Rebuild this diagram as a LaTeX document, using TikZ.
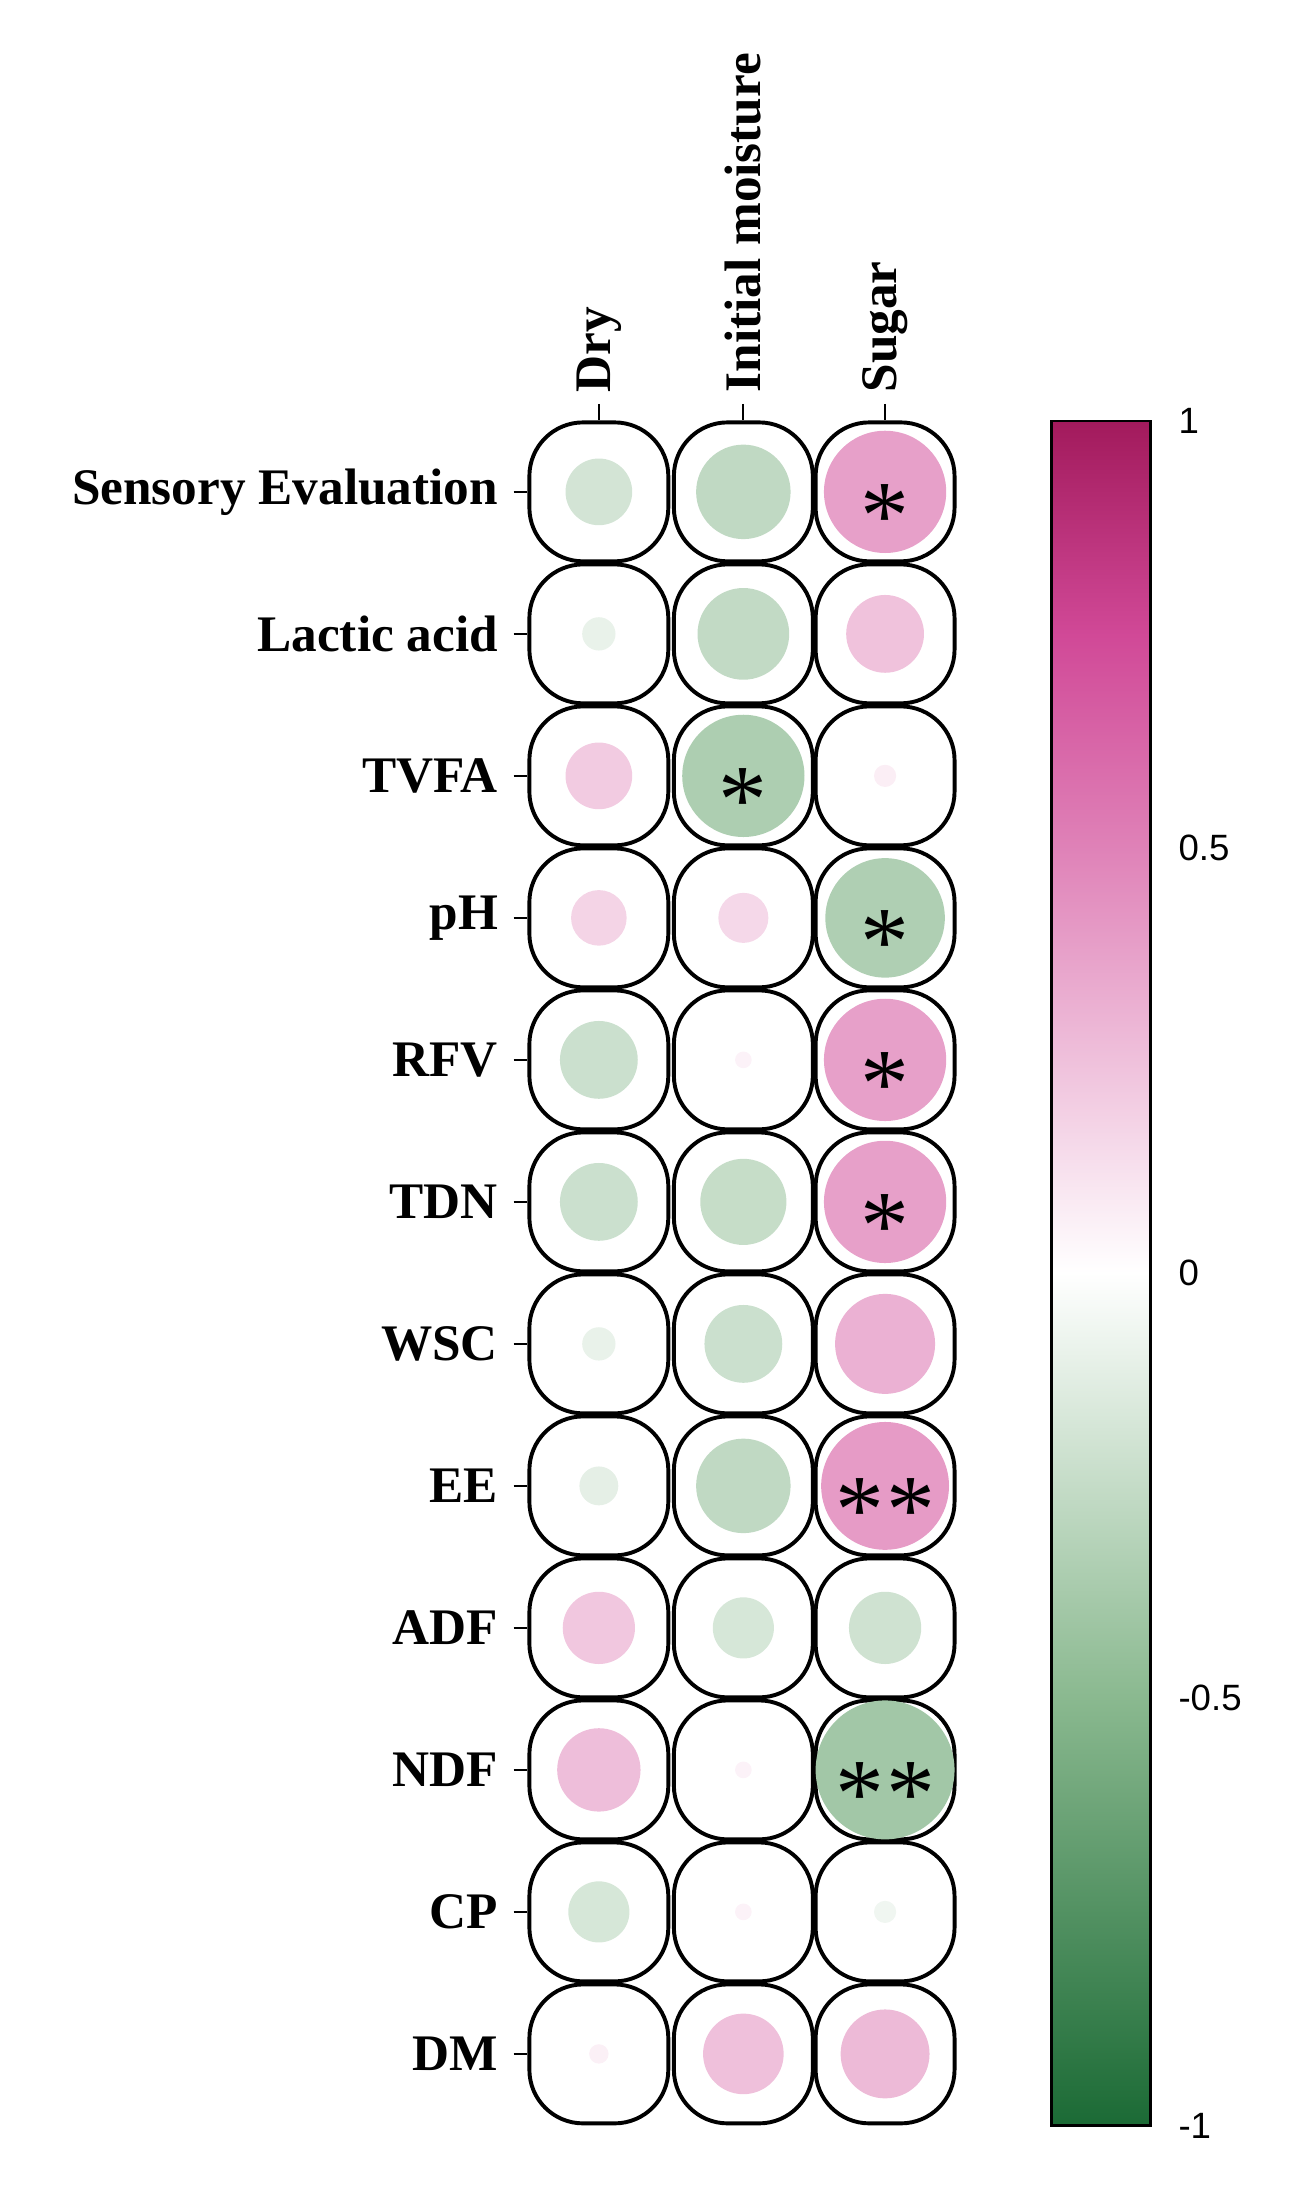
\documentclass[tikz,border=0pt]{standalone}
\usepackage{fontspec}
\setmainfont{Liberation Serif}
\newfontfamily\barfont{Liberation Sans}
\usepackage{xcolor}
\usetikzlibrary{calc}
\definecolor{posc}{HTML}{C51B7D}
\definecolor{negc}{HTML}{3C8A45}
\definecolor{topc}{HTML}{A21A5C}
\definecolor{botc}{HTML}{1B6A35}

\begin{document}
\begin{tikzpicture}[x=0.02cm,y=-0.02cm,
cell/.style={draw,line width=1.6pt,rounded corners=22,minimum size=0.02cm*100},
rowlab/.style={anchor=east,font=\bfseries\fontsize{21}{25}\selectfont},
collab/.style={anchor=west,rotate=90,font=\bfseries\fontsize{21}{25}\selectfont},
star/.style={font=\fontsize{40}{40}\selectfont},
ticklab/.style={anchor=west,font=\barfont\fontsize{15}{18}\selectfont}
]
\useasboundingbox (0,0) rectangle (940,1592);

% The cells and row labels
\foreach \lab [count=\i from 0] in {Sensory Evaluation,Lactic acid,TVFA,pH,RFV,TDN,WSC,EE,ADF,NDF,CP,DM}{
  \foreach \cx [count=\j] in {431,535,637}{
    \node[cell] (c-\i-\j) at (\cx,354+102.2*\i) {};
  }
  \coordinate (t-\i) at ($(c-\i-1.west)+(-10,0)$);
  \draw[line width=0.8pt] (t-\i) -- (c-\i-1.west);
  \node[rowlab] (r-\i) at ($(t-\i)+(-5,0)$) {\lab};
}

% The circles: row/col/radius/color
\foreach \i/\j/\r/\c in {
0/1/24/negc,0/2/34/negc,0/3/44/posc,
1/1/12/negc,1/2/33/negc,1/3/28/posc,
2/1/24/posc,2/2/44/negc,2/3/8/posc,
3/1/20/posc,3/2/18/posc,3/3/43/negc,
4/1/28/negc,4/2/6/posc,4/3/44/posc,
5/1/28/negc,5/2/31/negc,5/3/44/posc,
6/1/12/negc,6/2/28/negc,6/3/36/posc,
7/1/14/negc,7/2/34/negc,7/3/46/posc,
8/1/26/posc,8/2/22/negc,8/3/26/negc,
9/1/30/posc,9/2/6/posc,9/3/50/negc,
10/1/22/negc,10/2/6/posc,10/3/8/negc,
11/1/7/posc,11/2/29/posc,11/3/32/posc}{
  \pgfmathsetmacro\pc{0.95*\r}
  \fill[\c!\pc!white] (c-\i-\j.center) circle[radius=\r];
}

% The stars
\foreach \i/\j/\s in {0/3/*,2/2/*,3/3/*,4/3/*,5/3/*,7/3/{*\kern1pt*},9/3/{*\kern1pt*}}{
  \node[star] at ($(c-\i-\j.center)+(0,18)$) {\s};
}

% The column labels
\foreach \lab [count=\j] in {Dry,Initial moisture,Sugar}{
  \coordinate (u-\j) at ($(c-0-\j.north)+(0,-12)$);
  \draw[line width=0.8pt] (u-\j) -- (c-0-\j.north);
  \node[collab] (k-\j) at ($(u-\j)+(0,-2)$) {\lab};
}

% The colour bar
\shade[top color=topc,bottom color=posc!55!white,middle color=posc!80!white] (757,303) rectangle (828,610);
\shade[top color=posc!55!white,bottom color=white] (757,610) rectangle (828,916);
\shade[top color=white,bottom color=negc!60!white] (757,916) rectangle (828,1222);
\shade[top color=negc!60!white,bottom color=botc] (757,1222) rectangle (828,1530);
\draw[line width=1.2pt] (757,303) rectangle (828,1530);
\foreach \v/\y in {1/303,0.5/610,0/916,-0.5/1222,-1/1530}{
  \node[ticklab] at (842,\y) {\v};
}
\end{tikzpicture}
\end{document}
